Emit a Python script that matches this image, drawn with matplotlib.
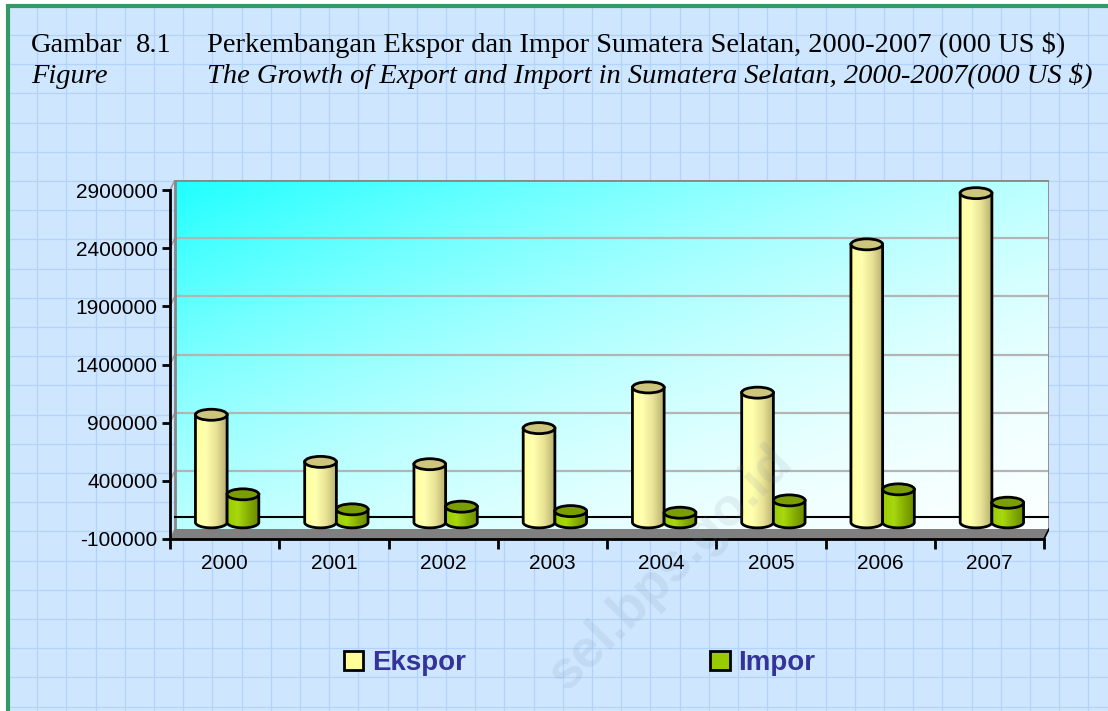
import numpy as np
import matplotlib
matplotlib.use("Agg")
import matplotlib.pyplot as plt
from matplotlib.patches import Polygon, Ellipse, Patch, Rectangle
from matplotlib.colors import LinearSegmentedColormap

# data (000 US $)
years = ['2000', '2001', '2002', '2003', '2004', '2005', '2006', '2007']
ekspor = [925000, 520000, 500000, 810000, 1160000, 1115000, 2390000, 2830000]
impor = [241000, 112000, 135000, 97000, 83000, 189000, 284000, 169000]
y_ticks = [-100000, 400000, 900000, 1400000, 1900000, 2400000, 2900000]

title_id = 'Perkembangan Ekspor dan Impor Sumatera Selatan, 2000-2007 (000 US $)'
title_en = 'The Growth of Export and Import in Sumatera Selatan, 2000-2007(000 US $)'

W, H = 1108, 711
fig = plt.figure(figsize=(W / 100, H / 100), dpi=100)

# graph paper background
bg = fig.add_axes([0, 0, 1, 1])
bg.set_xlim(0, W)
bg.set_ylim(H, 0)
bg.axis('off')
bg.add_patch(Rectangle((0, 0), W, H, color='#cfe6ff', zorder=0))
for x in np.arange(8, W, 29.2):
    bg.axvline(x, color='#b2d4fa', lw=0.9, zorder=1)
for y in np.arange(5.7, H, 29.2):
    bg.axhline(y, color='#b2d4fa', lw=0.9, zorder=1)
bg.add_patch(Rectangle((0, 0), 6, H, color='white', zorder=2))
bg.add_patch(Rectangle((0, 0), W, 4, color='white', zorder=2))
bg.plot([8, 8, W], [H, 5.5, 5.5], color='#339966', lw=3, zorder=3,
        solid_joinstyle='miter')

# titles
tfont = dict(family='Liberation Serif', fontsize=20.5, va='baseline')
fig.text(31 / W, 1 - 51.7 / H, 'Gambar', **tfont)
fig.text(136 / W, 1 - 51.7 / H, '8.1', **tfont)
fig.text(207 / W, 1 - 51.7 / H, title_id, **tfont)
fig.text(31 / W, 1 - 83.3 / H, 'Figure', style='italic', **tfont)
fig.text(207 / W, 1 - 83.3 / H, title_en, style='italic', **tfont)

# 3d-ish chart
n = len(years)
ymin, ymax = y_ticks[0], y_ticks[-1]
front_l, front_r, front_t, front_b = 170, 1044, 190, 539
depth_x, depth_y = 5, 10
px_x = (front_r - front_l) / n
px_y = (front_b - front_t) / (ymax - ymin)
dx = depth_x / px_x
dy = depth_y / px_y

ax = fig.add_axes([front_l / W, 1 - front_b / H,
                   (front_r - front_l + depth_x) / W, (front_b - front_t + depth_y) / H])
ax.patch.set_alpha(0)

# back wall with diagonal gradient
gx, gy = np.meshgrid(np.linspace(0, 1, 300), np.linspace(0, 1, 150))
t = (gx + gy) / 2
f = 1 - (1 - t) ** 1.8
img = np.dstack([0.12 + 0.86 * f, np.ones_like(f), np.ones_like(f)])
ax.imshow(img, extent=[dx, n + dx, ymin + dy, ymax + dy], aspect='auto',
          origin='upper', zorder=0, interpolation='bilinear')

for v in y_ticks[1:-1]:
    ax.plot([dx, n + dx], [v + dy, v + dy], color='#b4b4b4', lw=1.6, zorder=1)
for v in y_ticks:
    ax.plot([0, dx], [v, v + dy], color='#a0a0a0', lw=1.2, zorder=1)
ax.plot([dx, dx, n + dx, n + dx], [ymin + dy, ymax + dy, ymax + dy, ymin + dy],
        color='#888888', lw=2, zorder=1)
ax.plot([dx, n + dx], [dy, dy], color='black', lw=1.5, zorder=2)

# floor
ax.add_patch(Polygon([(0, ymin), (n, ymin), (n + dx, ymin + dy), (dx, ymin + dy)],
                     closed=True, fc='#808080', ec='none', zorder=2))
ax.plot([n, n + dx], [ymin, ymin + dy], color='black', lw=1.2, zorder=2)

# cylinders
cm_eks = LinearSegmentedColormap.from_list('eks', ['#ffff9c', '#ffffb0', '#e8e294', '#b8b070'])
cm_imp = LinearSegmentedColormap.from_list('imp', ['#99cc00', '#a8d810', '#86ae00', '#6a8a00'])
grad = np.linspace(0, 1, 100)[None, :]
hw = 0.145
ry = 5.5 / px_y


def cylinder(xc, val, cmap, top_color, z):
    base = dy / 2
    top = val + dy / 2
    th = np.linspace(np.pi, 2 * np.pi, 60)
    xs = [xc - hw] + list(xc + hw * np.cos(th)) + [xc + hw]
    ys = [top] + list(base + ry * np.sin(th)) + [top]
    body = Polygon(list(zip(xs, ys)), closed=True, fc='none', ec='none')
    ax.add_patch(body)
    im = ax.imshow(grad, cmap=cmap, extent=[xc - hw, xc + hw, base - ry, top],
                   aspect='auto', zorder=z)
    im.set_clip_path(body)
    ax.plot(xs, ys, color='black', lw=2, zorder=z + 0.01)
    ax.add_patch(Ellipse((xc, top), 2 * hw, 2 * ry, fc=top_color, ec='black',
                         lw=2, zorder=z + 0.02))


for i in range(n):
    cx = i + 0.5 + dx / 2
    cylinder(cx - hw, ekspor[i], cm_eks, '#cdc57c', 3 + i * 0.05)
    cylinder(cx + hw, impor[i], cm_imp, '#7a9e00', 4 + i * 0.05)

ax.set_xlim(0, n + dx)
ax.set_ylim(ymin, ymax + dy)

for s in ['top', 'right']:
    ax.spines[s].set_visible(False)
ax.spines['left'].set_bounds(ymin, ymax)
ax.spines['bottom'].set_bounds(0, n)
ax.spines['left'].set_linewidth(2)
ax.spines['bottom'].set_linewidth(2)
ax.spines['left'].set_zorder(6)
ax.spines['bottom'].set_zorder(6)

ax.set_yticks(y_ticks)
ax.set_yticklabels([str(v) for v in y_ticks], family='Liberation Sans', fontsize=15)
ax.tick_params(axis='y', length=6, width=2, pad=3)
ax.set_xticks(np.arange(n + 1))
ax.set_xticklabels([])
ax.set_xticks(np.arange(n) + 0.5, minor=True)
ax.set_xticklabels(years, minor=True, family='Liberation Sans', fontsize=15)
ax.tick_params(axis='x', which='major', length=7, width=2)
ax.tick_params(axis='x', which='minor', length=0, pad=11)

# legend
handles = [Patch(fc='#ffff99', ec='black', lw=2), Patch(fc='#99cc00', ec='black', lw=2)]
leg = fig.legend(handles, ['Ekspor', 'Impor'], loc='center left',
                 bbox_to_anchor=(344 / W, 1 - 663 / H), ncol=2, frameon=False,
                 prop=dict(family='Liberation Sans', weight='bold', size=20),
                 handlelength=0.7, handleheight=0.7, handletextpad=0.3,
                 columnspacing=8.8, borderpad=0, borderaxespad=0)
for txt in leg.get_texts():
    txt.set_color('#333399')

# watermark (visible part only)
fig.text(670 / W, 1 - 568 / H, 'sel.bps.go.id', rotation=45, fontsize=38,
         weight='bold', family='Liberation Sans', color='#7080a0', alpha=0.12,
         ha='center', va='center', zorder=20)

fig.savefig('out.png', dpi=100)
